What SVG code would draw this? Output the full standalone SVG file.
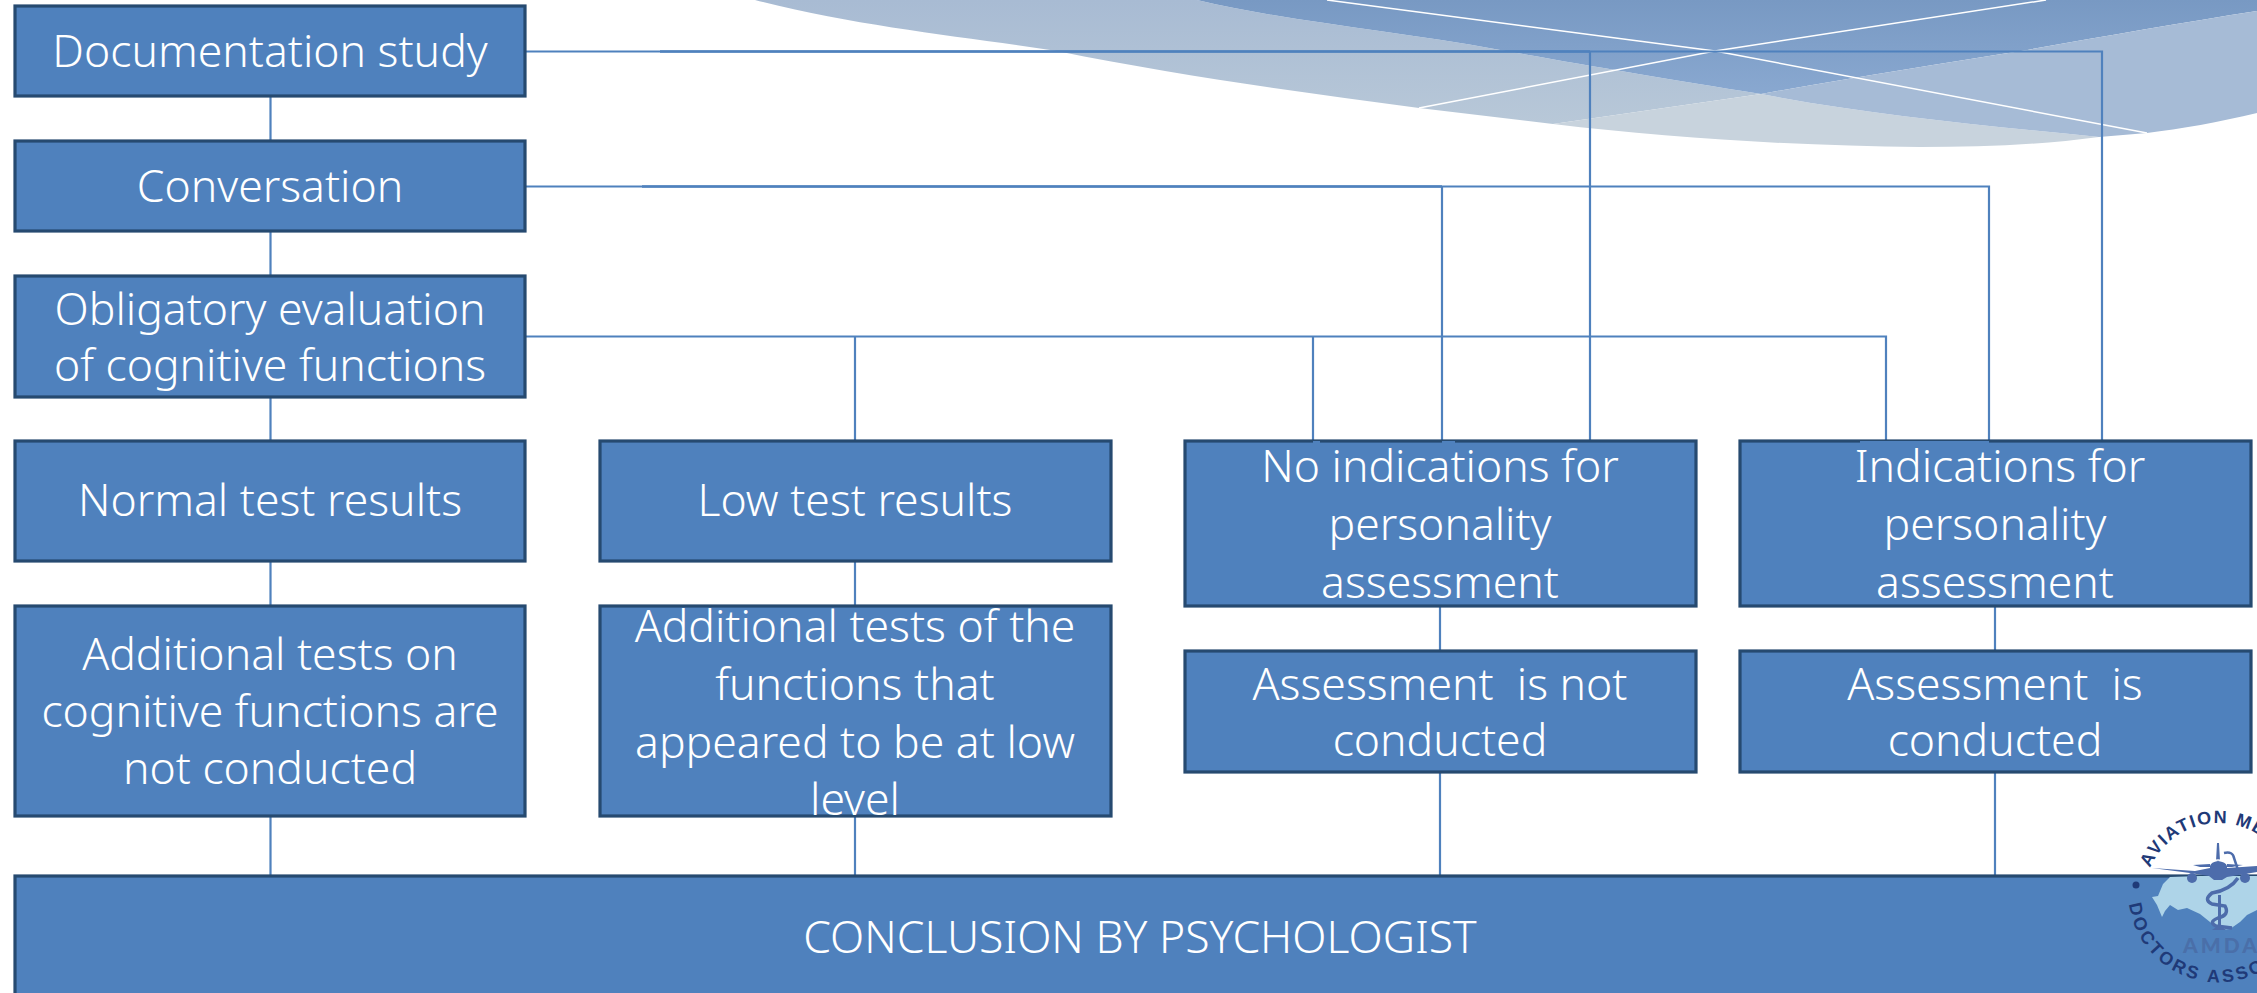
<svg xmlns="http://www.w3.org/2000/svg" width="2257" height="993" viewBox="0 0 2257 993">
<defs>
<linearGradient id="g1" gradientUnits="userSpaceOnUse" x1="0" y1="0" x2="0" y2="124"><stop offset="0" stop-color="#a8bbd3"/><stop offset="1" stop-color="#b8c8d8"/></linearGradient>
<linearGradient id="g2" gradientUnits="userSpaceOnUse" x1="0" y1="0" x2="0" y2="94"><stop offset="0" stop-color="#7899c3"/><stop offset="1" stop-color="#89a8d0"/></linearGradient>
<path id="arcTop" d="M2150 868A75 75 0 0 1 2290 875"/>
<path id="arcBot" d="M2129 904A90 90 0 0 0 2300 930"/>
</defs>
<style>
.box{fill:#4f81bd;stroke:#264a70;stroke-width:3.2}
.c{fill:none;stroke:#4f81bd;stroke-width:2.2}
.c2{fill:none;stroke:#4f81bd;stroke-width:2.7}
.t{fill:#fff;font-family:"Noto Sans","Open Sans",sans-serif;font-size:44.5px;font-weight:300;text-anchor:middle}
.lg{fill:#1f3a78;font-family:"Liberation Sans",sans-serif;font-weight:700;font-size:18px}
.lt{letter-spacing:1.6px}
.lb{letter-spacing:3px}
.pl{fill:#4d6cab}
</style>
<rect width="2257" height="993" fill="#fff"/>
<g id="wave">
<path d="M755 0C860 27 960 36 1057 51C1180 76 1300 92 1419 108L1553 124L1761 94C1660 78 1580 64 1500 50C1390 30 1290 22 1197 0Z" fill="url(#g1)"/>
<path d="M1197 0C1290 22 1390 30 1500 50C1580 64 1660 78 1761 94C1850 78 1940 64 2021 51C2100 37 2180 23 2257 11V0Z" fill="url(#g2)"/>
<path d="M1553 124L1761 94C1870 115 1980 125 2099 137C2040 145 1980 147 1920 147C1800 146 1670 138 1553 124Z" fill="#c8d3dd"/>
<path d="M1761 94C1850 78 1940 64 2021 51C2100 37 2180 23 2257 11V113C2220 122 2180 129 2147 133L2099 137C1980 125 1870 115 1761 94Z" fill="#a6bbd6"/>
<path d="M1327 0L1715 51L2147 133M1419 108L1715 51L2046 0" fill="none" stroke="#fff" stroke-width="1.5"/>
</g>
<g id="connectors">
<path class="c" d="M525 51.500H2102V441M1590 51.500V441"/>
<path class="c" d="M525 186.500H1989V441M1442 186.500V441"/>
<path class="c" d="M525 336.500H1886V441M855 336.500V441M1313 336.500V441"/>
<path class="c2" d="M660 51.500H1590M642 186.500H1442"/>
<path class="c" d="M270.500 96V141M270.500 231V276M270.500 397V441M270.500 561V606M270.500 816V876"/>
<path class="c" d="M855 561V607M855 817V876"/>
<path class="c" d="M1440 606V650M1440 772V876"/>
<path class="c" d="M1995 606V650M1995 772V876"/>
</g>
<g id="n1"><rect class="box" x="15" y="6" width="510" height="90"/><text class="t" x="270" y="67">Documentation study</text></g>
<g id="n2"><rect class="box" x="15" y="141" width="510" height="90"/><text class="t" x="270" y="202">Conversation</text></g>
<g id="n3"><rect class="box" x="15" y="276" width="510" height="121"/><text class="t" x="270" y="325">Obligatory evaluation</text><text class="t" x="270" y="381">of cognitive functions</text></g>
<g id="n4"><rect class="box" x="15" y="441" width="510" height="120"/><text class="t" x="270" y="516">Normal test results</text></g>
<g id="n5"><rect class="box" x="15" y="606" width="510" height="210"/><text class="t" x="270" y="670">Additional tests on</text><text class="t" x="270" y="727">cognitive functions are</text><text class="t" x="270" y="784">not conducted</text></g>
<g id="n6"><rect class="box" x="600" y="441" width="511" height="120"/><text class="t" x="855" y="516">Low test results</text></g>
<g id="n7"><rect class="box" x="600" y="606" width="511" height="210"/><text class="t" x="855" y="642">Additional tests of the</text><text class="t" x="855" y="700">functions that</text><text class="t" x="855" y="758">appeared to be at low</text><text class="t" x="855" y="815">level</text></g>
<g id="n8"><rect class="box" x="1185" y="441" width="511" height="165"/><text class="t" x="1440" y="482">No indications for</text><text class="t" x="1440" y="540">personality</text><text class="t" x="1440" y="598">assessment</text></g>
<g id="n9"><rect class="box" x="1740" y="441" width="511" height="165"/><text class="t" x="2000" y="482">Indications for</text><text class="t" x="1995" y="540">personality</text><text class="t" x="1995" y="598">assessment</text></g>
<g id="n10"><rect class="box" x="1185" y="651" width="511" height="121"/><text class="t" x="1440" y="700" xml:space="preserve">Assessment  is not</text><text class="t" x="1440" y="756">conducted</text></g>
<g id="n11"><rect class="box" x="1740" y="651" width="511" height="121"/><text class="t" x="1995" y="700" xml:space="preserve">Assessment  is</text><text class="t" x="1995" y="756">conducted</text></g>
<g id="n12"><rect class="box" x="15" y="876" width="2260" height="130"/><text class="t" x="1140" y="953">CONCLUSION BY PSYCHOLOGIST</text></g>
<path class="c" d="M1313 442H1320M1442 442H1455M1860 442H1989" id="connector-feet"/>
<g id="logo">
<path d="M2152 897L2158 896L2163 884L2170 877L2200 876H2257V910L2247 915L2240 922L2230 929L2220 930L2210 922L2200 914L2187 908L2178 910L2170 905L2165 911L2162 917L2157 905Z" fill="#aed4e8"/>
<path class="pl" d="M2152 868L2195 871L2210 868V866Q2211 862 2218 861Q2226 862 2227 866V868L2257 866V872L2227 877L2222 880H2214L2209 876L2190 873Z"/>
<path class="pl" d="M2217 843H2219L2220 861H2216ZM2193 865L2210 864V867L2200 867ZM2227 864L2243 865L2232 867H2227Z"/>
<circle class="pl" cx="2192" cy="878" r="5"/><circle class="pl" cx="2245" cy="878" r="5"/>
<path d="M2210 862Q2218 858 2226 862" fill="none" stroke="#fff" stroke-width="1.500"/>
<path d="M2224 853Q2233 851 2234 858L2238 870" fill="none" stroke="#4d6cab" stroke-width="2.500"/>
<path d="M2238 878Q2230 890 2212 893Q2203 900 2212 904L2225 906Q2230 915 2218 918Q2208 922 2216 926L2232 928" fill="none" stroke="#4d6cab" stroke-width="3.500"/>
<path class="pl" d="M2218 895H2221V926L2226 930H2212L2218 926Z"/>
<text x="2183" y="953" font-family="Lato,'Liberation Sans',sans-serif" font-weight="900" font-size="21" letter-spacing="3" fill="#4a6fa9">AMDA</text>
<circle cx="2136" cy="885" r="3.500" fill="#1f3a78"/>
<text class="lg lt"><textPath href="#arcTop">AVIATION MED</textPath></text>
<text class="lg lb"><textPath href="#arcBot">DOCTORS ASSO</textPath></text>
</g>
</svg>
